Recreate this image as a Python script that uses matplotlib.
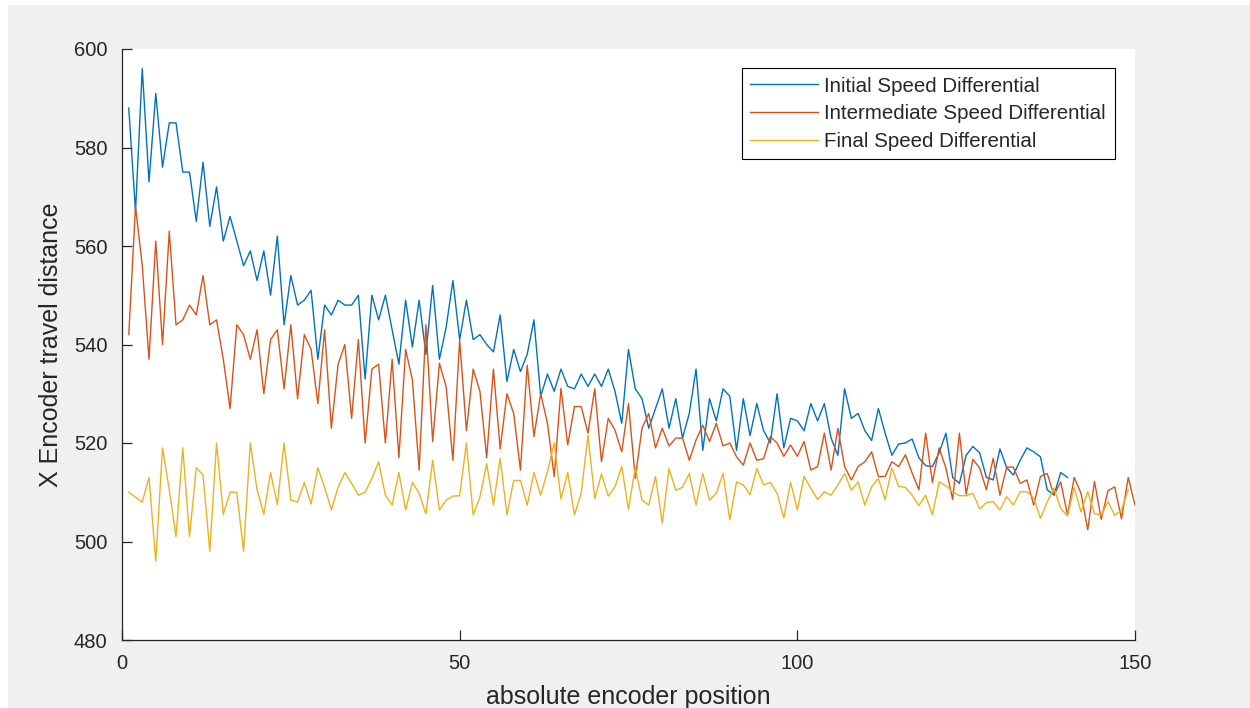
import numpy as np
import matplotlib
matplotlib.use("Agg")
import matplotlib.pyplot as plt
from matplotlib.patches import Rectangle

# ---------------- data ----------------
initial = [588, 567, 596, 573, 591, 576, 585, 585, 575, 575,
           565, 577, 564, 572, 561, 566, 561, 556, 559, 553,
           559, 550, 562, 544, 554, 548, 549, 551, 537, 548,
           546, 549, 548, 548, 550, 533, 550, 545, 550, 543,
           536, 549, 539.5, 549, 538, 552, 537, 543.5, 553, 541,
           549, 541, 542, 540, 538.5, 546, 532.5, 539, 534.5, 538,
           545, 529.5, 534, 530.5, 535, 531.5, 531, 534, 531.5, 534,
           531.5, 535, 530.5, 524, 539, 531, 529, 523, 527, 531,
           523, 529, 521, 526, 535, 518.5, 529, 524.5, 531, 529.5,
           518.5, 529, 521.5, 528, 522.5, 520, 530, 519, 525, 524.5,
           522.5, 528, 524.5, 528, 521, 517.5, 531, 525, 526, 522.5,
           520.5, 527, 522, 517.5, 519.8, 520, 520.8, 517, 515.4, 515.2,
           518, 522, 513, 511.8, 517.5, 519.3, 518, 513, 512.5, 518.8,
           515, 513.5, 516.5, 519, 518.2, 517.2, 510.5, 509.4, 514, 513]

intermediate = [542, 568, 556, 537, 561, 540, 563, 544, 545, 548,
                546, 554, 544, 545, 537, 527, 544, 542, 537, 543,
                530, 541, 543, 531, 544, 529, 542, 539, 528, 543,
                523, 536, 540, 525, 541, 520, 535, 536, 520, 537,
                517, 539, 532.8, 514.5, 544, 520.3, 536.2, 531.4, 516.5, 540.9,
                522.5, 535, 530.5, 517, 535, 518.8, 530, 526, 514.5, 535.8,
                521.3, 530, 524, 513.2, 531.1, 519.6, 527.4, 527.4, 522, 531,
                516.2, 525, 522.6, 518.2, 528, 512.8, 523, 526, 519, 523,
                519.4, 521, 521, 516.5, 520.6, 523.6, 520.3, 524, 519.4, 520,
                517.2, 515.5, 520, 516.5, 516.8, 521.3, 520, 517.3, 519.6, 517.3,
                520.3, 514.5, 515.2, 522, 514.5, 523, 515.2, 512.5, 515.2, 516.2,
                518.2, 513.2, 513.2, 516.2, 515.2, 517.6, 513.9, 510.5, 522, 512,
                519, 514.9, 508.5, 522, 509.6, 516.7, 514.9, 510.5, 516.9, 509.4,
                515.1, 515.1, 511.8, 512.5, 507.4, 513.2, 513.8, 509.4, 512.1, 505.4,
                513, 509.8, 502.4, 512.2, 504.5, 510.3, 511.1, 504.6, 513, 507.4]

final = [510, 509, 508, 513, 496, 519, 510.5, 501, 519, 501,
         515, 513.5, 498, 520, 505.5, 510, 510, 498, 520, 510.5,
         505.5, 514, 507.5, 520, 508.4, 508, 512, 507.6, 515, 511,
         506.4, 511, 514, 511.8, 509.4, 510, 512.8, 516.2, 509.4, 507.4,
         514, 506.4, 512, 509.8, 505.6, 516.5, 506.4, 508.4, 509.2, 509.3,
         520, 505.4, 509, 515.8, 507.4, 516.9, 505.4, 512.4, 512.4, 507.4,
         514, 509.4, 514.2, 520, 508.6, 514, 505.4, 509.8, 521.6, 508.7,
         513.7, 509.2, 511.1, 515.2, 506.5, 515, 508.4, 507.4, 513.2, 503.7,
         514.8, 510.4, 511, 513.8, 507.4, 513.8, 508.4, 509.8, 513.8, 504.4,
         512.1, 511.5, 509.5, 514.8, 511.5, 512, 509.8, 504.8, 512, 506.4,
         513.2, 510.8, 508.5, 510.1, 509.4, 511.5, 513.8, 510.4, 512.1, 507.4,
         511.1, 512.8, 508.5, 514.9, 511.2, 511, 509.4, 507.3, 509.4, 505.4,
         512.1, 511.3, 510.1, 509.3, 509.3, 509.8, 506.6, 507.9, 508.1, 506.4,
         509.1, 507.4, 510.1, 510.1, 508.8, 504.7, 508, 510.8, 506.7, 505.2,
         511, 506, 510.1, 505.7, 505.3, 508.1, 505.3, 506.4, 510.5]

series_labels = ["Initial Speed Differential",
                 "Intermediate Speed Differential",
                 "Final Speed Differential"]
x_ticks = [0, 50, 100, 150]
y_ticks = [480, 500, 520, 540, 560, 580, 600]
x_label = "absolute encoder position"
y_label = "X Encoder travel distance"

# ---------------- style ----------------
plt.rcParams['font.family'] = ['Liberation Sans', 'DejaVu Sans']
colors = ["#0072BD", "#D95319", "#EDB120"]
axis_col = "#262626"

W, H = 1250, 708
fig = plt.figure(figsize=(W / 100, H / 100), dpi=100, facecolor="#f0f0f0")
# white screenshot margins
fig.patches.append(Rectangle((0, 0), 8 / W, 1, transform=fig.transFigure,
                             facecolor="white", edgecolor="none", zorder=-10))
fig.patches.append(Rectangle((0, 1 - 5 / H), 1, 5 / H, transform=fig.transFigure,
                             facecolor="white", edgecolor="none", zorder=-10))

left, right, top, bottom = 122, 1135, 49, 640
ax = fig.add_axes([left / W, 1 - bottom / H, (right - left) / W, (bottom - top) / H])
ax.set_facecolor("white")

for data, c, lab in zip([initial, intermediate, final], colors, series_labels):
    xs = np.arange(1, len(data) + 1)
    ax.plot(xs, data, color=c, lw=1.0, label=lab)

ax.set_xlim(0, 150)
ax.set_ylim(480, 600)
ax.set_xticks(x_ticks)
ax.set_yticks(y_ticks)
ax.tick_params(direction="in", length=7, width=0.9, colors=axis_col,
               labelsize=14.5)
ax.tick_params(axis="y", pad=10.5)
ax.tick_params(axis="x", pad=10)
for s in ["top", "right"]:
    ax.spines[s].set_visible(False)
for s in ["left", "bottom"]:
    ax.spines[s].set_color(axis_col)
    ax.spines[s].set_linewidth(0.9)

ax.set_xlabel(x_label, fontsize=18, color=axis_col, labelpad=9)
ax.set_ylabel(y_label, fontsize=18, color=axis_col, labelpad=8)

leg = ax.legend(loc="upper right", bbox_to_anchor=(0.980, 0.968),
                borderaxespad=0, fontsize=14.8, frameon=True, fancybox=False,
                edgecolor="black", framealpha=1, handlelength=3.3,
                handletextpad=0.3, labelspacing=0.42, borderpad=0.42)
leg.get_frame().set_linewidth(0.8)
for t in leg.get_texts():
    t.set_color(axis_col)

fig.savefig("out.png", dpi=100, facecolor=fig.get_facecolor())
